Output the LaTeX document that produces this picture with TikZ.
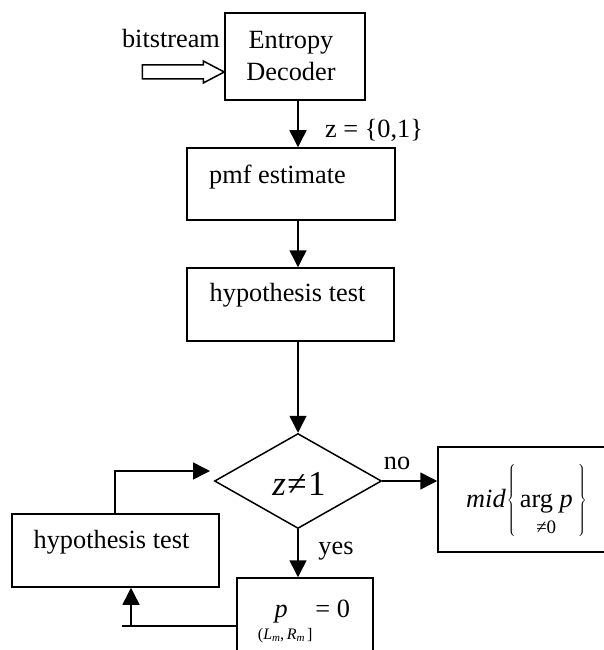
\documentclass[tikz,border=0pt]{standalone}
\usepackage{fontspec}
\setmainfont{Liberation Serif}
\usetikzlibrary{arrows.meta,shapes.geometric}
\begin{document}
\begin{tikzpicture}[x=1pt,y=-1pt,
  box/.style={draw,line width=1.5pt,inner sep=0pt,rectangle},
  lbl/.style={inner sep=0pt,font=\fontsize{26.3}{32}\selectfont},
  arr/.style={line width=1.5pt,-{Triangle[width=17pt,length=17pt]}},
  ln/.style={line width=1.5pt}]
\useasboundingbox (0,0) rectangle (604,650);
% boxes
\node[box,minimum width=140pt,minimum height=87pt] (ent) at (295,56.5) {};
\node[box,minimum width=208pt,minimum height=72pt] (pmf) at (291,184) {};
\node[box,minimum width=207pt,minimum height=73pt] (hyp1) at (290.5,304.5) {};
\node[draw,diamond,line width=1.5pt,minimum width=167pt,minimum height=95pt,inner sep=0pt] (dia) at (298,481) {};
\node[box,minimum width=202pt,minimum height=105pt] (mid) at (539,499.5) {};
\node[box,minimum width=207pt,minimum height=73pt] (hyp2) at (115.5,550.5) {};
\node[box,minimum width=136pt,minimum height=112pt] (pb) at (305,634) {};
% texts
\node[lbl,align=center] (entt) at (291,56) {Entropy\\Decoder};
\node[lbl] (pmft) at (277.5,177) {pmf estimate};
\node[lbl] (hyp1t) at (287.5,295) {hypothesis test};
\node[lbl] (hyp2t) at (111.5,542) {hypothesis test};
\node[inner sep=0pt,font=\fontsize{35}{40}\selectfont] (diat) at (299,484) {\textit{z}\kern1.5pt≠\kern1.5pt1};
\node[lbl,anchor=base] (midt) at (526.5,507) {\delimiterfactor=1000 \delimitershortfall=0pt\textit{mid}\kern1pt$\left\{\vphantom{\rule[-28pt]{0pt}{62pt}}\right.$\kern3pt\begin{tabular}[t]{@{}c@{}}arg \textit{p}\\[-6pt]{\fontsize{19}{20}\selectfont ≠0}\end{tabular}\kern4pt$\left.\vphantom{\rule[-28pt]{0pt}{62pt}}\right\}$};
\node[lbl,anchor=base] (pbt) at (304,617) {\begin{tabular}[t]{@{}c@{}}\textit{p}\kern8pt\\[-10pt]{\fontsize{16}{17}\selectfont(\textit{L}{\fontsize{11}{12}\selectfont\raisebox{-2pt}{\textit{m}}},\,\textit{R}{\fontsize{11}{12}\selectfont\raisebox{-2pt}{\textit{m}}}\,]}\end{tabular}\hspace{3pt}= 0};
\node[lbl,anchor=west] (zl) at (325,130) {z = \{0,1\}};
\node[lbl] (bs) at (171,39) {bitstream};
\node[lbl] (nol) at (397,463) {no};
\node[lbl] (yesl) at (336,551) {yes};
% hollow input arrow
\coordinate (tip) at (ent.west |- 0,72);
\draw[line width=1.5pt,line join=miter] (tip) -- ++(-21,-11) -- ++(0,4) -- ++(-61,0) -- ++(0,14) -- ++(61,0) -- ++(0,4) -- cycle;
% connectors
\draw[arr] (ent.south -| dia.north) -- (pmf.north -| dia.north);
\draw[arr] (pmf.south -| dia.north) -- (hyp1.north -| dia.north);
\draw[arr] (hyp1.south -| dia.north) -- (dia.north);
\draw[arr] (dia.east) -- (mid.west |- dia.east);
\draw[arr] (dia.south) -- (pb.north -| dia.south);
\coordinate (lend) at (122,626);
\coordinate (vup) at (131,626);
\draw[ln] (pb.west |- lend) -- (lend);
\draw[arr] (vup) -- (hyp2.south -| vup);
\coordinate (lp) at (210,471);
\draw[arr] (hyp2.north -| 115,0) |- (lp);
\end{tikzpicture}
\end{document}
